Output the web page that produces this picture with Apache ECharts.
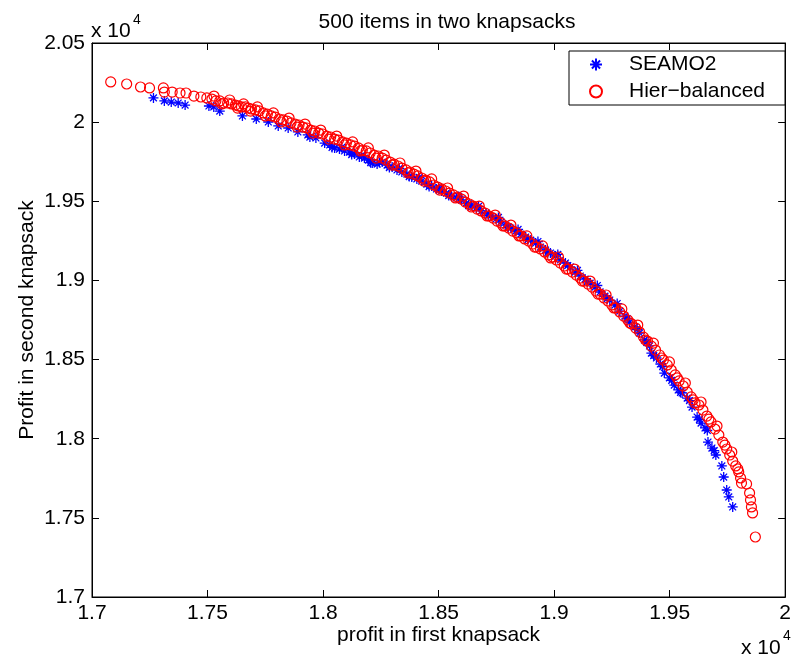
<!DOCTYPE html>
<html>
<head>
<meta charset="utf-8">
<script src="https://cdn.jsdelivr.net/npm/echarts@6/dist/echarts.min.js"></script>
<style>
  html, body { margin: 0; padding: 0; background: #fff; }
  #chart { width: 794px; height: 657px; }
</style>
</head>
<body>
<div id="chart"></div>
<script>
// profit values (raw units, axis shows x 10^4)
const seamo2First = [17266,17313,17343,17373,17403,17506,17527,17553,17651,17711,
  17763,17806,17849,17891,17934,17943,17969,18007,18029,18050,
  18071,18093,18114,18136,18157,18179,18196,18213,18234,18256,
  18277,18299,18320,18341,18363,18384,18406,18427,18449,18470,
  18491,18513,18534,18556,18577,18599,18620,18641,18663,18684,
  18706,18727,18749,18770,18791,18813,18834,18856,18877,18899,
  18920,18941,18963,18984,19006,19027,19049,19070,19091,19113,
  19134,19156,19177,19199,19220,19241,19263,19284,19306,19327,
  19349,19370,19391,19413,19421,19443,19460,19477,19499,19520,
  19537,19554,19576,19597,19619,19636,19653,19666,19683,19700,
  19726,19734,19747,19756,19773,
  // points partly hidden under the red band
  18039,18081,18124,18167,18206,18244,18287,18330,18373,18416,
  18459,18501,18544,18587,18630,18673,18716,18759,18801,18844,
  18887,18930,18973,19016,19059,19101,19144,19187,19230,19273,
  19316,19359,19401,19431,19470,19509,19547,19586,19629,19663,
  19693];
const seamo2Second = [20153,20134,20127,20121,20108,20102,20096,20070,20039,20020,
  20001,19976,19963,19938,19919,19906,19900,19868,19856,19837,
  19830,19818,19811,19799,19780,19773,19760,19742,19735,19748,
  19729,19717,19698,19685,19672,19653,19641,19628,19609,19597,
  19578,19565,19552,19533,19521,19508,19489,19476,19458,19439,
  19426,19407,19388,19369,19350,19331,19312,19293,19274,19255,
  19236,19211,19192,19173,19154,19129,19110,19085,19053,19028,
  19009,18983,18958,18927,18901,18876,18844,18806,18775,18737,
  18706,18668,18624,18586,18541,18510,18472,18415,18384,18339,
  18308,18289,18257,18200,18137,18099,18068,17979,17941,17897,
  17828,17758,17676,17632,17569,
  19840,19840,19795,19790,19744,19745,19713,19708,19656,19651,
  19593,19588,19536,19531,19473,19468,19410,19398,19334,19322,
  19258,19246,19176,19164,19094,19063,18993,18968,18885,18854,
  18759,18690,18608,18525,18456,18368,18292,18241,18121,18052,
  17925];

const hierFirst = [17081,17150,17210,17249,17309,17313,17347,17381,17407,17441,
  17471,17497,17519,17536,17553,17570,17587,17604,17621,17634,
  17647,17664,17677,17690,17707,17724,17741,17759,17776,17793,
  17810,17827,17844,17861,17879,17896,17913,17930,17947,17964,
  17981,17999,18016,18033,18050,18067,18084,18101,18119,18136,
  18153,18170,18187,18204,18221,18239,18256,18273,18290,18307,
  18324,18341,18359,18376,18393,18410,18427,18444,18461,18479,
  18496,18513,18530,18547,18564,18581,18599,18616,18633,18650,
  18667,18684,18701,18719,18736,18753,18770,18787,18804,18821,
  18839,18856,18873,18890,18907,18924,18941,18959,18976,18993,
  19010,19027,19044,19061,19079,19096,19113,19130,19147,19164,
  19181,19199,19216,19233,19250,19267,19284,19301,19319,19336,
  19353,19370,19387,19404,19421,19439,19456,19473,19490,19507,
  19524,19541,19559,19576,19593,19610,19627,19644,19661,19679,
  19696,19713,19730,19747,19760,19773,19786,19799,19807,19811,
  19833,19846,19850,19854,19859,19871,
  // second row of circles that thickens the band
  17528,17562,17596,17630,17656,17686,17716,17750,17785,17819,
  17853,17888,17922,17956,17990,18025,18059,18093,18128,18162,
  18196,18230,18265,18299,18333,18368,18402,18436,18470,18505,
  18539,18573,18608,18642,18676,18710,18745,18779,18813,18848,
  18882,18916,18950,18985,19019,19053,19088,19122,19156,19190,
  19225,19259,19293,19328,19362,19396,19430,19465,19499,19533,
  19568,19602,19636,19670,19705,19739,19769,19795];
const hierSecond = [20254,20241,20222,20216,20216,20190,20190,20184,20184,20165,
  20159,20153,20146,20134,20134,20121,20121,20115,20108,20102,
  20096,20096,20089,20083,20077,20071,20058,20051,20039,20032,
  20020,20014,20007,19995,19988,19982,19969,19963,19950,19944,
  19931,19925,19912,19906,19893,19887,19875,19868,19856,19849,
  19837,19824,19818,19805,19792,19786,19773,19760,19748,19735,
  19723,19710,19698,19685,19672,19660,19647,19634,19622,19603,
  19590,19578,19565,19552,19540,19527,19514,19495,19483,19470,
  19451,19439,19426,19407,19394,19375,19363,19344,19331,19312,
  19300,19281,19262,19249,19230,19211,19199,19180,19161,19148,
  19129,19110,19091,19072,19053,19034,19015,18996,18977,18958,
  18933,18914,18889,18870,18845,18826,18801,18775,18750,18725,
  18699,18674,18642,18617,18585,18560,18529,18497,18466,18434,
  18403,18365,18333,18295,18264,18226,18213,18181,18143,18106,
  18061,18023,17979,17935,17897,17859,17828,17790,17752,17720,
  17714,17657,17613,17569,17531,17379,
  20165,20115,20140,20089,20115,20070,20096,20039,20058,20001,
  20026,19969,19988,19931,19950,19893,19912,19856,19875,19818,
  19837,19773,19792,19729,19742,19679,19691,19628,19641,19571,
  19584,19521,19533,19464,19470,19407,19413,19344,19350,19281,
  19281,19211,19218,19142,19148,19072,19072,18996,18996,18914,
  18908,18826,18820,18731,18718,18623,18604,18510,18485,18384,
  18352,18245,18232,18124,18080,17960,17916,17809];

const seriesNames = ['SEAMO2', 'Hier\u2212balanced'];
const xRange = [17000, 20000];
const yRange = [17000, 20500];
const tickStep = 500;

const FONT = 'Liberation Sans, Arial, Helvetica, sans-serif';
const ASTERISK = 'path://M5,0L5,10M0,5L10,5M1.6,1.6L8.4,8.4M1.6,8.4L8.4,1.6';

const zip = (a, b) => a.map((v, i) => [v, b[i]]);
const fmt = (v) => String(parseFloat((v / 1e4).toFixed(3)));

const chart = echarts.init(document.getElementById('chart'));

const baseAxis = (range, extra) => Object.assign({
  type: 'value',
  min: range[0],
  max: range[1],
  interval: tickStep,
  splitLine: { show: false },
  axisLine: { show: true, onZero: false, lineStyle: { color: '#000', width: 1 } },
  axisTick: { show: true, inside: true, length: 7, lineStyle: { color: '#000' } },
  axisLabel: { color: '#000', fontSize: 21, fontFamily: FONT, formatter: fmt }
}, extra);

const option = {
  animation: false,
  backgroundColor: '#fff',
  title: {
    text: '500 items in two knapsacks',
    left: 442,
    top: 7,
    textAlign: 'center',
    textStyle: { color: '#000', fontSize: 21, fontWeight: 'normal', fontFamily: FONT }
  },
  grid: { left: 92, right: 2, top: 43, bottom: 60, show: true, borderColor: '#000', borderWidth: 1 },
  legend: {
    orient: 'vertical',
    left: 569,
    top: 51,
    padding: [3, 20, 3, 20],
    itemGap: 6,
    itemWidth: 40,
    itemHeight: 12,
    backgroundColor: '#fff',
    borderColor: '#000',
    borderWidth: 1,
    borderRadius: 0,
    textStyle: { color: '#000', fontSize: 21, fontFamily: FONT, padding: [0, 0, 0, 8] },
    data: seriesNames
  },
  xAxis: [
    baseAxis(xRange, {
      position: 'bottom',
      name: 'profit in first knapsack',
      nameLocation: 'middle',
      nameGap: 28,
      nameMoveOverlap: false,
      nameTextStyle: { color: '#000', fontSize: 21, fontFamily: FONT },
      axisLabel: { color: '#000', fontSize: 21, fontFamily: FONT, formatter: fmt, margin: 6 }
    }),
    baseAxis(xRange, { position: 'top', axisLabel: { show: false } })
  ],
  yAxis: [
    baseAxis(yRange, {
      position: 'left',
      name: 'Profit in second knapsack',
      nameLocation: 'middle',
      nameGap: 54,
      nameMoveOverlap: false,
      nameTextStyle: { color: '#000', fontSize: 21, fontFamily: FONT },
      axisLabel: { color: '#000', fontSize: 21, fontFamily: FONT, formatter: fmt, margin: 7 }
    }),
    baseAxis(yRange, { position: 'right', axisLabel: { show: false } })
  ],
  graphic: [
    { type: 'text', x: 91, y: 31, style: { text: 'x 10', fill: '#000', font: '21px ' + FONT, verticalAlign: 'middle' } },
    { type: 'text', x: 133, y: 20, style: { text: '4', fill: '#000', font: '14px ' + FONT, verticalAlign: 'middle' } },
    { type: 'text', x: 741, y: 648, style: { text: 'x 10', fill: '#000', font: '21px ' + FONT, verticalAlign: 'middle' } },
    { type: 'text', x: 783, y: 636, style: { text: '4', fill: '#000', font: '14px ' + FONT, verticalAlign: 'middle' } }
  ],
  series: [
    {
      name: seriesNames[0],
      type: 'scatter',
      data: zip(seamo2First, seamo2Second),
      symbol: ASTERISK,
      symbolSize: 10,
      itemStyle: { color: 'rgba(0,0,0,0)', borderColor: '#0000ff', borderWidth: 1.3, opacity: 1 }
    },
    {
      name: seriesNames[1],
      type: 'scatter',
      data: zip(hierFirst, hierSecond),
      symbol: 'circle',
      symbolSize: 10,
      itemStyle: { color: 'rgba(0,0,0,0)', borderColor: '#ff0000', borderWidth: 1.2, opacity: 1 }
    }
  ]
};

chart.setOption(option);
</script>
</body>
</html>
